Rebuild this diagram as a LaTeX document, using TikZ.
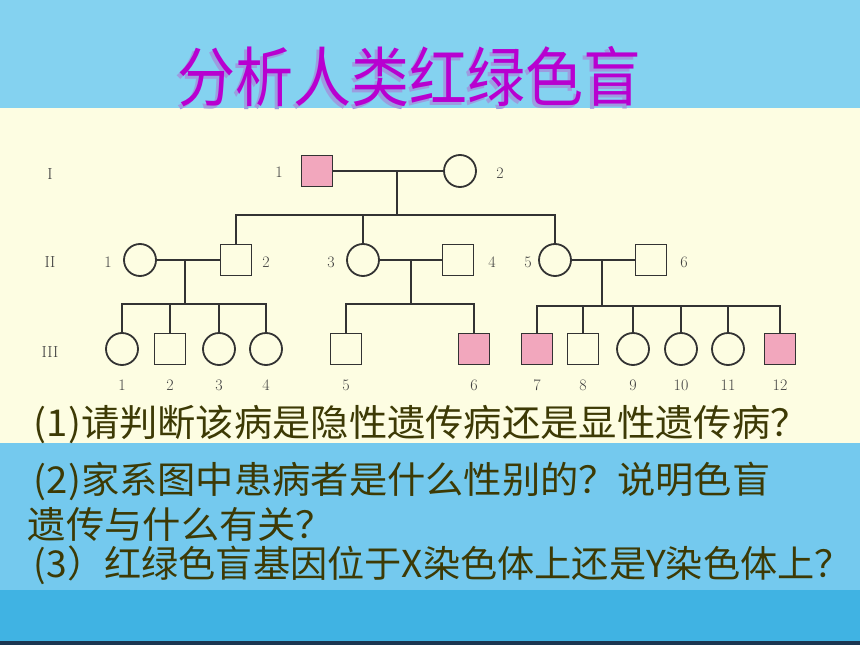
\documentclass[tikz,border=0pt]{standalone}
\usepackage{fontspec}
\usepackage{graphicx}
\newfontfamily\cjk{Noto Sans CJK SC}
\definecolor{sky}{HTML}{84D2F0}
\definecolor{cream}{HTML}{FDFDE2}
\definecolor{midblue}{HTML}{74C9EE}
\definecolor{deepblue}{HTML}{40B3E3}
\definecolor{navy}{HTML}{1B3550}
\definecolor{titlec}{HTML}{B800D0}
\definecolor{shadowc}{HTML}{9C9CE0}
\definecolor{qtext}{HTML}{3D3A05}
\definecolor{pedline}{HTML}{333333}
\definecolor{numgray}{HTML}{404040}
\definecolor{sickpink}{HTML}{F2A7BD}

\begin{document}
\begin{tikzpicture}[x=1pt, y=-1pt, line width=1.8pt, draw=pedline,
    male/.style={draw=pedline, minimum size=31pt, inner sep=0pt},
    female/.style={draw=pedline, circle, minimum size=32pt, inner sep=0pt},
    sick/.style={fill=sickpink},
    num/.style={text=numgray, inner sep=0pt, font=\fontsize{16}{16}\selectfont},
    ask/.style={anchor=base west, inner sep=0pt, text=qtext, font=\cjk\fontsize{37}{37}\selectfont}]
  % background bands
  \fill[sky] (0,0) rectangle (860,108);
  \fill[cream] (0,108) rectangle (860,443);
  \fill[midblue] (0,443) rectangle (860,590);
  \fill[deepblue] (0,590) rectangle (860,641);
  \fill[navy] (0,641) rectangle (860,645);
  \useasboundingbox (0,0) rectangle (860,645);

  % title
  \node[text=shadowc, font=\cjk\fontsize{58}{58}\selectfont] (titleshadow) at (406,80) {\scalebox{1}[1.12]{分析人类红绿色盲}};
  \node[text=titlec, font=\cjk\fontsize{58}{58}\selectfont] (title) at (409,77) {\scalebox{1}[1.12]{分析人类红绿色盲}};

  % generation marks
  \node[num] (gI) at (50,174) {I};
  \node[num] (gII) at (50,262) {II};
  \node[num] (gIII) at (50,352) {III};

  % generation I
  \node[male, sick] (I1) at (317,171) {};
  \node[female] (I2) at (460,171) {};
  \node[num] (nI1) at (279,172) {1};
  \node[num] (nI2) at (500,173) {2};

  % generation II
  \node[female] (II1) at (140,260) {};
  \node[male] (II2) at (236,260) {};
  \node[female] (II3) at (363,260) {};
  \node[male] (II4) at (458,260) {};
  \node[female] (II5) at (555,260) {};
  \node[male] (II6) at (651,260) {};
  \foreach \x/\t in {108/1, 266/2, 331/3, 492/4, 528/5, 684/6}
    \node[num] (nII\t) at (\x,262) {\t};

  % generation III
  \node[female] (III1) at (122,349) {};
  \node[male] (III2) at (170,349) {};
  \node[female] (III3) at (219,349) {};
  \node[female] (III4) at (266,349) {};
  \node[male] (III5) at (346,349) {};
  \node[male, sick] (III6) at (474,349) {};
  \node[male, sick] (III7) at (537,349) {};
  \node[male] (III8) at (583,349) {};
  \node[female] (III9) at (633,349) {};
  \node[female] (III10) at (681,349) {};
  \node[female] (III11) at (728,349) {};
  \node[male, sick] (III12) at (780,349) {};
  \foreach \x/\t in {122/1, 170/2, 219/3, 266/4, 346/5, 474/6, 537/7, 583/8, 633/9, 681/10, 728/11, 780/12}
    \node[num] (nIII\t) at (\x,385) {\t};

  % marriages and descent
  \coordinate (m1) at (397,171);
  \coordinate (s1) at (397,215);
  \draw (I1) -- (I2);
  \draw (m1) -- (s1);
  \draw (II2.north) |- (II5.north |- s1) -- (II5.north);
  \draw (II3.north) -- (II3.north |- s1);

  \coordinate (m2) at (185,260);
  \coordinate (s2) at (185,304);
  \draw (II1) -- (II2);
  \draw (m2) -- (s2);
  \draw (III1.north) |- (III4.north |- s2) -- (III4.north);
  \foreach \k in {2,3}
    \draw (III\k.north) -- (III\k.north |- s2);

  \coordinate (m3) at (411,260);
  \coordinate (s3) at (411,304);
  \draw (II3) -- (II4);
  \draw (m3) -- (s3);
  \draw (III5.north) |- (III6.north |- s3) -- (III6.north);

  \coordinate (m4) at (602,260);
  \coordinate (s4) at (602,306);
  \draw (II5) -- (II6);
  \draw (m4) -- (s4);
  \draw (III7.north) |- (III12.north |- s4) -- (III12.north);
  \foreach \k in {8,9,10,11}
    \draw (III\k.north) -- (III\k.north |- s4);

  % questions
  \node[ask] (q1) at (33,436) {\scalebox{1.035}[1]{(1)请判断该病是隐性遗传病还是显性遗传病？}};
  \node[ask] (q2) at (33,493) {\scalebox{1.035}[1]{(2)家系图中患病者是什么性别的？说明色盲}};
  \node[ask] (q2b) at (27,538) {\scalebox{1.035}[1]{遗传与什么有关？}};
  \node[ask] (q3) at (33,577) {\scalebox{1.005}[1]{(3）红绿色盲基因位于X染色体上还是Y染色体上？}};
\end{tikzpicture}
\end{document}
